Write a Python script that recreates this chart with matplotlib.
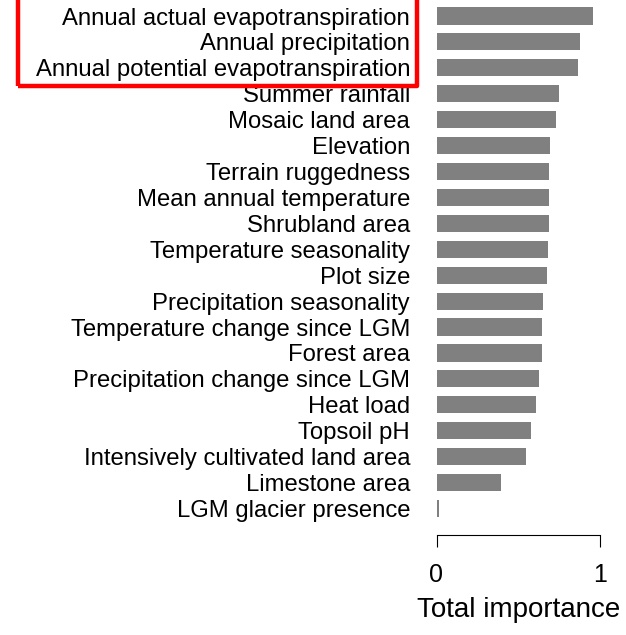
import matplotlib
matplotlib.use("Agg")
import matplotlib.pyplot as plt
from matplotlib.patches import Rectangle

plt.rcParams["font.family"] = ["Liberation Sans", "DejaVu Sans"]

# Variables, top to bottom, with their total importance
variables = [
    "Annual actual evapotranspiration",
    "Annual precipitation",
    "Annual potential evapotranspiration",
    "Summer rainfall",
    "Mosaic land area",
    "Elevation",
    "Terrain ruggedness",
    "Mean annual temperature",
    "Shrubland area",
    "Temperature seasonality",
    "Plot size",
    "Precipitation seasonality",
    "Temperature change since LGM",
    "Forest area",
    "Precipitation change since LGM",
    "Heat load",
    "Topsoil pH",
    "Intensively cultivated land area",
    "Limestone area",
    "LGM glacier presence",
]
importance = [0.960, 0.875, 0.863, 0.747, 0.729, 0.692, 0.686, 0.686, 0.686,
              0.680, 0.674, 0.649, 0.643, 0.643, 0.625, 0.607, 0.576, 0.546,
              0.393, 0.017]
x_ticks = [0, 1]

W, H = 626, 635
fig = plt.figure(figsize=(W / 100, H / 100), dpi=100)

# axes placed in pixel units: x=0 at 436.5 px, 163.5 px per unit
x0_px, unit_px = 436.5, 163.5
ax_left, ax_right = x0_px, 625.0
ax_top, ax_bottom = 0.0, 525.0
ax = fig.add_axes([ax_left / W, 1 - ax_bottom / H,
                   (ax_right - ax_left) / W, (ax_bottom - ax_top) / H])

ypos = list(range(len(variables)))
ax.barh(ypos, importance, height=0.66, color="#808080", linewidth=0)

first_px, step_px = 16.0, 25.92
ax.set_ylim((ax_bottom - first_px) / step_px, (ax_top - first_px) / step_px)
xmax = (ax_right - ax_left) / unit_px
ax.set_xlim(0, xmax)

ax.set_yticks(ypos)
ax.set_yticklabels(variables)
ax.tick_params(axis="y", length=0, pad=19, labelsize=17.2)

ax.set_xticks(x_ticks)
ax.set_xticklabels([str(t) for t in x_ticks])
ax.tick_params(axis="x", direction="out", length=8.6, width=0.8, pad=11.5,
               labelsize=18)
ax.set_xlabel("Total importance", fontsize=20, labelpad=7.5)
ax.xaxis.label.set_x(0.5 / xmax)

for s in ["left", "top", "right"]:
    ax.spines[s].set_visible(False)
ax.spines["bottom"].set_bounds(0, 1)
ax.spines["bottom"].set_position(("outward", 7.2))
ax.spines["bottom"].set_linewidth(0.8)

# red highlight box around the top three labels
box = Rectangle((18 / W, 1 - 86 / H), (417 - 18) / W, 100 / H,
                transform=fig.transFigure, fill=False, edgecolor="#ff0000",
                linewidth=3.2, joinstyle="round", clip_on=False)
fig.patches.append(box)

fig.savefig("out.png", dpi=100)
